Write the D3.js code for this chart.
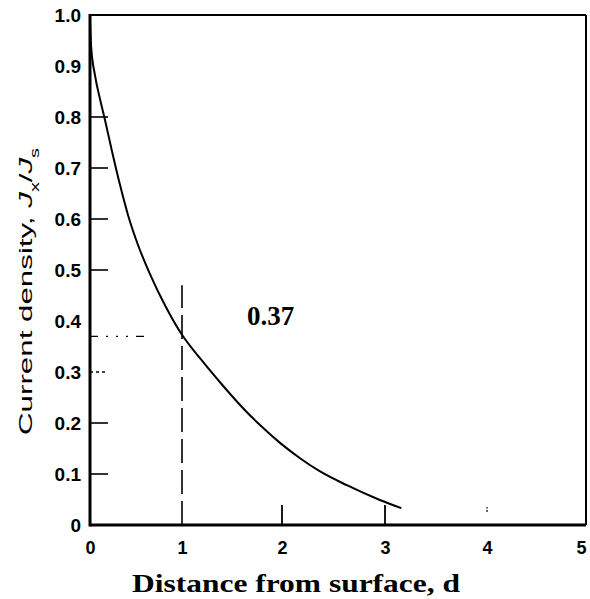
<!DOCTYPE html>
<html>
<head>
<meta charset="utf-8">
<script src="https://cdn.jsdelivr.net/npm/d3@7"></script>
<style>
	body { margin:0; background:#fff; }
	svg { display:block; }
	.tick text { font-family: "Liberation Sans", Arial, sans-serif; font-weight:bold; fill:#000; }
</style>
</head>
<body>
<svg id="chart" width="590" height="599"></svg>
<script>
// curve
var distance = [0, 0.011, 0.054, 0.109, 0.163, 0.239, 0.326, 0.413, 0.522, 0.652, 0.815, 1.0, 1.18, 1.41, 1.63, 1.78, 1.98, 2.175, 2.37, 2.63, 2.95, 3.16];
var density  = [0.99, 0.941, 0.882, 0.835, 0.794, 0.733, 0.667, 0.608, 0.549, 0.492, 0.431, 0.373, 0.327, 0.273, 0.225, 0.196, 0.161, 0.131, 0.105, 0.078, 0.049, 0.033];

var xTicks = [0, 1, 2, 3, 4, 5];
var yTicks = [0, 0.1, 0.2, 0.3, 0.4, 0.5, 0.6, 0.7, 0.8, 0.9, 1.0];
var yTickLabels = ['0', '0.1', '0.2', '0.3', '0.4', '0.5', '0.6', '0.7', '0.8', '0.9', '1.0'];
var ySolidTicks = [0.1, 0.2, 0.5, 0.6, 0.7, 0.8];
var yDottedTicks = [0.3];
var xSolidTicks = [2, 3];

var skinDepth = 1;      // dashed line
var skinValue = 0.37;   // dotted line + label

var svg = d3.select('#chart');

// the scan is slightly uneven, so the x scale follows the printed ticks
var x = d3.scaleLinear().domain(xTicks).range([90, 182, 282, 385, 487, 586]);
var y = d3.scaleLinear().domain([0, 1]).range([525, 15]);

var data = distance.map(function(d, i){ return {x: d, y: density[i]}; });

// axes (labels only, ticks drawn by hand below)
svg.append('g')
	.attr('transform', 'translate(0,' + y(0) + ')')
	.call(d3.axisBottom(x).tickValues(xTicks).tickSize(0).tickPadding(16).tickFormat(d3.format('d')))
	.call(function(g){ g.select('.domain').remove(); })
	.selectAll('text')
		.style('font-size', '18px')
		.style('text-anchor', function(d){ return d == 5 ? 'end' : 'middle'; });

svg.append('g')
	.attr('transform', 'translate(' + x(0) + ',0)')
	.call(d3.axisLeft(y).tickValues(yTicks).tickSize(0).tickPadding(9)
		.tickFormat(function(d, i){ return yTickLabels[i]; }))
	.call(function(g){ g.select('.domain').remove(); })
	.selectAll('text').style('font-size', '19px').attr('dy', '0.36em');

// inward tick marks
svg.append('g').selectAll('line').data(ySolidTicks).enter()
	.append('line')
		.attr('x1', x(0)).attr('x2', x(0) + 18)
		.attr('y1', function(d){ return y(d); }).attr('y2', function(d){ return y(d); })
		.attr('stroke', '#000').attr('stroke-width', 1.6);

svg.append('g').selectAll('line').data(yDottedTicks).enter()
	.append('line')
		.attr('x1', x(0)).attr('x2', x(0) + 18)
		.attr('y1', function(d){ return y(d); }).attr('y2', function(d){ return y(d); })
		.attr('stroke', '#000').attr('stroke-width', 1.4)
		.attr('stroke-dasharray', '3,3');

svg.append('g').selectAll('line').data(xSolidTicks).enter()
	.append('line')
		.attr('x1', function(d){ return x(d); }).attr('x2', function(d){ return x(d); })
		.attr('y1', y(0)).attr('y2', y(0) - 20)
		.attr('stroke', '#000').attr('stroke-width', 1.8);

// faint little mark at 4
svg.append('line')
	.attr('x1', x(4)).attr('x2', x(4))
	.attr('y1', y(0) - 13).attr('y2', y(0) - 18)
	.attr('stroke', '#000').attr('stroke-width', 1.2)
	.attr('stroke-dasharray', '2,1.5');

// frame
svg.append('line') // top
	.attr('x1', x(0)).attr('x2', x(5)).attr('y1', y(1)).attr('y2', y(1))
	.attr('stroke', '#000').attr('stroke-width', 2);
svg.append('line') // right
	.attr('x1', x(5)).attr('x2', x(5)).attr('y1', y(1)).attr('y2', y(0))
	.attr('stroke', '#000').attr('stroke-width', 2);
svg.append('line') // bottom
	.attr('x1', x(0)).attr('x2', x(5)).attr('y1', y(0)).attr('y2', y(0))
	.attr('stroke', '#000').attr('stroke-width', 3);
svg.append('line') // left
	.attr('x1', x(0)).attr('x2', x(0)).attr('y1', y(1) - 1).attr('y2', y(0) + 1.5)
	.attr('stroke', '#000').attr('stroke-width', 3);

// dashed line at d = 1
svg.append('line')
	.attr('x1', x(skinDepth)).attr('x2', x(skinDepth))
	.attr('y1', y(0)).attr('y2', y(0.47))
	.attr('stroke', '#000').attr('stroke-width', 1.6)
	.attr('stroke-dasharray', '24,7');

// dotted line at 0.37
svg.append('line')
	.attr('x1', x(0)).attr('x2', x(0.62))
	.attr('y1', y(skinValue)).attr('y2', y(skinValue))
	.attr('stroke', '#000').attr('stroke-width', 1.2)
	.attr('stroke-dasharray', '8,8,2,8,2,8,2,8');

// the curve
var line = d3.line()
	.x(function(d){ return x(d.x); })
	.y(function(d){ return y(d.y); })
	.curve(d3.curveMonotoneX);

svg.append('path')
	.datum(data)
	.attr('d', line)
	.attr('fill', 'none')
	.attr('stroke', '#000')
	.attr('stroke-width', 2);

// label on the chart
svg.append('text')
	.attr('x', 247).attr('y', 325)
	.style('font-family', '"Liberation Serif", "Times New Roman", serif')
	.style('font-weight', 'bold')
	.style('font-size', '27px')
	.text(skinValue.toFixed(2));

// axis titles
svg.append('text')
	.attr('x', 132).attr('y', 592)
	.attr('textLength', 328)
	.attr('lengthAdjust', 'spacingAndGlyphs')
	.style('font-family', '"Liberation Serif", "Times New Roman", serif')
	.style('font-weight', 'bold')
	.style('font-size', '25px')
	.text('Distance from surface, d');

var yTitle = svg.append('text')
	.attr('transform', 'translate(32,435) rotate(-90)')
	.attr('textLength', 287)
	.attr('lengthAdjust', 'spacingAndGlyphs')
	.style('font-family', '"Liberation Sans", Arial, sans-serif')
	.style('font-size', '19px');
yTitle.append('tspan').text('Current density, ');
yTitle.append('tspan').style('font-style', 'italic').text('J');
yTitle.append('tspan').attr('baseline-shift', 'sub').style('font-size', '12px').text('x');
yTitle.append('tspan').text('/');
yTitle.append('tspan').style('font-style', 'italic').text('J');
yTitle.append('tspan').attr('baseline-shift', 'sub').style('font-size', '12px').text('s');
</script>
</body>
</html>
